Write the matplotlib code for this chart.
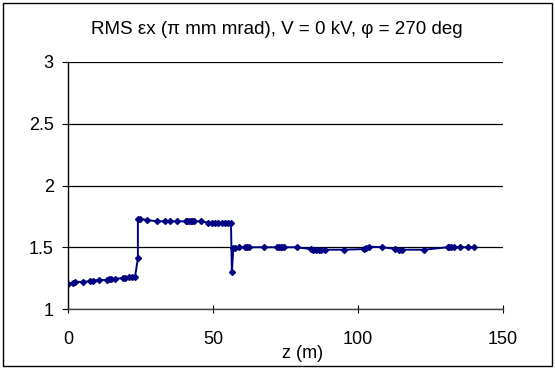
import matplotlib
matplotlib.use("Agg")
import matplotlib.pyplot as plt
from matplotlib.patches import Rectangle

# Werte
z_m = [0.0, 1.8, 2.5, 5.0, 7.6, 8.5, 10.8, 13.5, 14.3, 14.8, 16.2, 18.9, 19.6, 21.0, 22.1, 23.1,
       24.1, 24.1, 24.9, 27.4, 30.6, 33.6, 35.0, 37.7, 40.6, 41.2, 41.7, 42.4, 42.9, 43.5, 45.9,
       48.2, 49.5, 50.7, 51.8, 53.0, 54.1, 55.1, 56.2, 56.5, 57.0, 57.6, 59.0, 61.2, 61.7, 62.3,
       67.7, 72.2, 72.7, 73.4, 73.9, 74.5, 78.8, 83.8, 84.6, 85.6, 86.5, 87.4, 88.5, 95.3, 101.9,
       102.8, 103.7, 108.4, 112.9, 114.1, 115.2, 122.8, 130.9, 131.4, 132.0, 133.2, 135.2, 137.8,
       139.9]
emit_x = [1.20, 1.213, 1.22, 1.22, 1.225, 1.23, 1.235, 1.235, 1.24, 1.24, 1.245, 1.25, 1.255, 1.26,
          1.26, 1.26, 1.41, 1.727, 1.73, 1.72, 1.71, 1.71, 1.71, 1.71, 1.71, 1.71, 1.71, 1.71,
          1.71, 1.71, 1.71, 1.70, 1.695, 1.695, 1.695, 1.695, 1.695, 1.695, 1.695, 1.30, 1.49,
          1.49, 1.50, 1.50, 1.50, 1.50, 1.50, 1.50, 1.50, 1.50, 1.50, 1.50, 1.50, 1.485, 1.48,
          1.48, 1.48, 1.48, 1.48, 1.48, 1.485, 1.49, 1.505, 1.50, 1.485, 1.48, 1.48, 1.48, 1.50,
          1.50, 1.50, 1.50, 1.50, 1.50, 1.50]

plt.rcParams['font.family'] = ['Liberation Sans', 'DejaVu Sans']

W, H = 555, 369
fig = plt.figure(figsize=(W / 100, H / 100), dpi=100)
# Plotbereich: x 68..503 px, y 62..309 px
ax = fig.add_axes([68 / W, 1 - 309 / H, 435 / W, 247 / H])

ax.plot(z_m, emit_x, color='#000080', linewidth=1.4, marker='D', markersize=3)

ax.set_xlim(0, 150)
ax.set_ylim(1, 3)
ax.set_xticks([0, 50, 100, 150])
ax.set_yticks([1, 1.5, 2, 2.5, 3])
ax.set_yticklabels(['1', '1.5', '2', '2.5', '3'])
ax.yaxis.grid(True, color='black', linewidth=0.9)
ax.set_axisbelow(True)
for s in ['top', 'right']:
    ax.spines[s].set_visible(False)
ax.spines['left'].set_linewidth(1.0)
ax.spines['bottom'].set_color('#444444')
ax.spines['bottom'].set_linewidth(1.0)
ax.tick_params(axis='y', direction='out', length=4.3, pad=6, labelsize=13)
ax.tick_params(axis='x', direction='inout', length=6, pad=12.5, labelsize=13)

fig.text(277 / W, 1 - 30 / H, 'RMS εx (π mm mrad), V = 0 kV, φ = 270 deg',
         ha='center', va='center', fontsize=13.5)
fig.text(303 / W, 1 - 354 / H, 'z (m)', ha='center', va='center', fontsize=13)

fig.patches.append(Rectangle((3 / W, 3 / H), 549 / W, 363 / H, fill=False,
                             edgecolor='black', linewidth=1.0, transform=fig.transFigure))

fig.savefig('out.png', dpi=100)
